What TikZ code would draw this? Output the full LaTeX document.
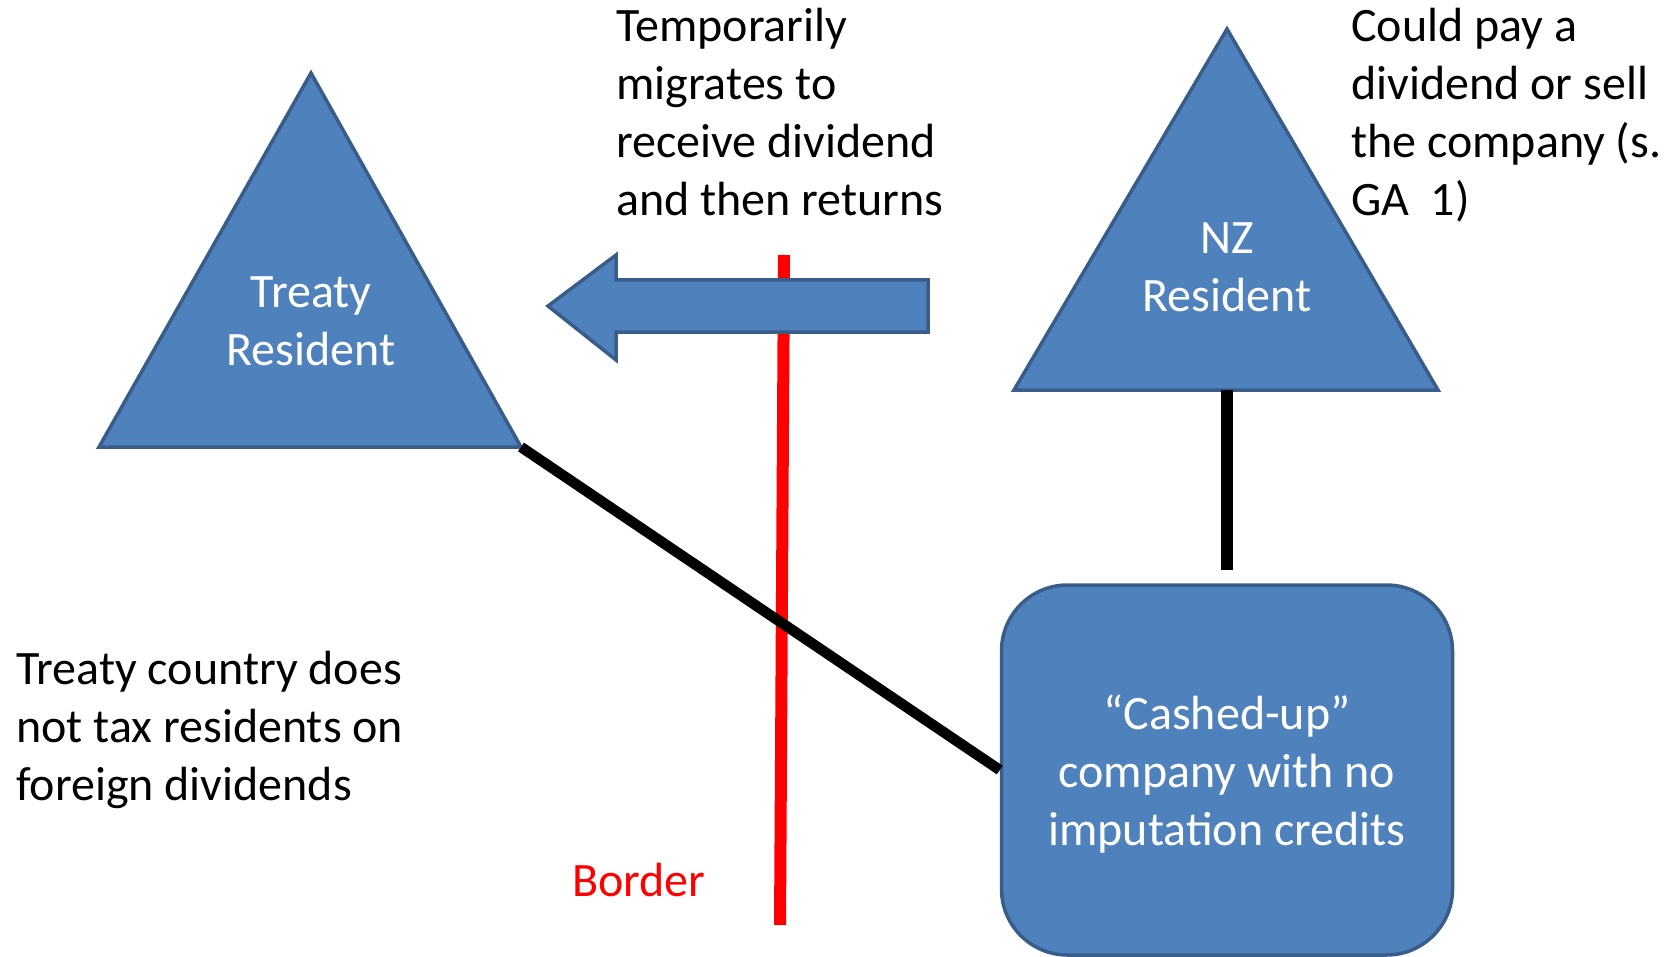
\documentclass[tikz,border=0pt]{standalone}
\usepackage{fontspec}
\setmainfont{Carlito}
\definecolor{fillblue}{HTML}{4F81BD}
\definecolor{edgeblue}{HTML}{385D8A}
\begin{document}
\begin{tikzpicture}[x=1pt,y=-1pt,
  shapestyle/.style={fill=fillblue,draw=edgeblue,line width=3.5pt,line join=miter},
  txt/.style={inner sep=0pt,font=\fontsize{48}{58}\selectfont},
  wtxt/.style={txt,text=white,align=center},
  btxt/.style={txt,text=black,align=left},
  box/.style={shapestyle,rounded corners=66pt,minimum width=451pt,minimum height=370pt,inner sep=0pt},
  conn/.style={line width=10.5pt,black}]
\useasboundingbox (0,0) rectangle (1677,957);
% border line
\coordinate (bt) at (784,255);
\coordinate (bb) at (780,925);
\draw[red,line width=12pt] (bt) -- (bb);
% left triangle
\coordinate (lA) at (311,73);
\coordinate (lL) at (99,447);
\coordinate (lR) at (521,447);
\draw[shapestyle] (lA) -- (lR) -- (lL) -- cycle;
\node[wtxt,anchor=north] (tr) at (311,267) {\strut Treaty\\Resident};
% right triangle
\coordinate (rA) at (1227,29);
\coordinate (rL) at (1014,390);
\coordinate (rR) at (1438,390);
\coordinate (rM) at (1227,390);
\draw[shapestyle] (rA) -- (rR) -- (rL) -- cycle;
\node[wtxt,anchor=north] (nz) at (1227,213) {\strut NZ\\Resident};
% arrow
\draw[shapestyle] (548,306) -- (616,255) -- (616,280) -- (928,280) -- (928,332) -- (616,332) -- (616,360) -- cycle;
% company box
\node[box] (co) at (1227,770) {};
\node[wtxt,anchor=north] (cot) at (1227,689) {\strut ``Cashed-up''\\company with no\\imputation credits};
% connectors
\coordinate (vend) at (1227,570);
\draw[conn,line width=11.5pt] (rM) -- (vend);
\draw[conn] (lR) -- (co.west);
% texts
\node[btxt,anchor=north west] (t1) at (616,1) {\strut Temporarily\\migrates to\\receive dividend\\and then returns};
\node[btxt,anchor=north west] (t2) at (1351,1) {\strut Could pay a\\dividend or sell\\the company (s.\\GA\ \ 1)};
\node[btxt,anchor=north west] (t3) at (16,644) {\strut Treaty country does\\not tax residents on\\foreign dividends};
\node[txt,text=red,anchor=base west] (bd) at (572,896) {Border};
\end{tikzpicture}
\end{document}
